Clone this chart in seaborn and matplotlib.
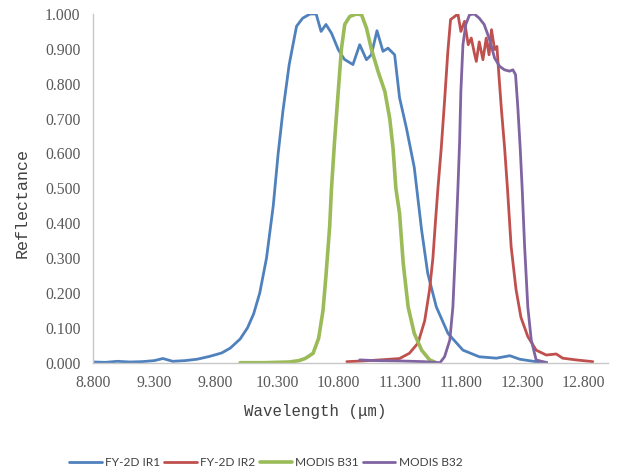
import matplotlib
matplotlib.use("Agg")
import matplotlib.pyplot as plt
import seaborn as sns
import pandas as pd

# ---- data ----
ir1_x = [8.80, 8.90, 9.00, 9.10, 9.20, 9.30, 9.37, 9.45, 9.55, 9.65, 9.75, 9.85, 9.92,
         10.00, 10.06, 10.11, 10.16, 10.215, 10.27, 10.31, 10.35, 10.40, 10.46, 10.51,
         10.57, 10.62, 10.66, 10.70, 10.745, 10.80, 10.85, 10.92, 10.975, 11.03, 11.07,
         11.116, 11.165, 11.206, 11.26, 11.30, 11.356, 11.42, 11.48, 11.53, 11.60,
         11.695, 11.817, 11.95, 12.09, 12.20, 12.28, 12.41, 12.50]
ir1_y = [0.002, 0.001, 0.004, 0.002, 0.003, 0.006, 0.012, 0.004, 0.006, 0.010, 0.018, 0.028, 0.042,
         0.068, 0.100, 0.140, 0.200, 0.300, 0.450, 0.600, 0.725, 0.855, 0.965, 0.988,
         1.000, 1.000, 0.950, 0.970, 0.945, 0.898, 0.870, 0.855, 0.912, 0.869, 0.883,
         0.952, 0.893, 0.902, 0.883, 0.760, 0.673, 0.560, 0.380, 0.256, 0.160,
         0.084, 0.036, 0.017, 0.013, 0.020, 0.010, 0.003, 0.001]

ir2_x = [10.87, 11.00, 11.14, 11.30, 11.38, 11.45, 11.505, 11.545, 11.572, 11.594, 11.613,
         11.64, 11.667, 11.694, 11.716, 11.75, 11.776, 11.80, 11.83, 11.86, 11.885, 11.91,
         11.926, 11.95, 11.98, 12.007, 12.03, 12.05, 12.075, 12.094, 12.11, 12.13, 12.157,
         12.18, 12.21, 12.25, 12.29, 12.346, 12.414, 12.496, 12.578, 12.63, 12.74, 12.876]
ir2_y = [0.003, 0.005, 0.008, 0.012, 0.027, 0.056, 0.120, 0.210, 0.300, 0.410, 0.500,
         0.615, 0.750, 0.893, 0.984, 0.993, 1.000, 0.950, 0.979, 0.912, 0.931, 0.888,
         0.864, 0.920, 0.869, 0.931, 0.883, 0.955, 0.898, 0.907, 0.826, 0.730, 0.615,
         0.500, 0.333, 0.210, 0.130, 0.075, 0.036, 0.022, 0.025, 0.013, 0.008, 0.003]

b31_x = [10.00, 10.20, 10.40, 10.48, 10.53, 10.595, 10.64, 10.676, 10.70, 10.73, 10.745,
         10.77, 10.80, 10.826, 10.853, 10.894, 10.948, 10.99, 11.03, 11.07, 11.125, 11.18,
         11.22, 11.247, 11.27, 11.30, 11.33, 11.37, 11.42, 11.48, 11.545, 11.60]
b31_y = [0.000, 0.000, 0.002, 0.006, 0.012, 0.027, 0.070, 0.150, 0.250, 0.390, 0.500,
         0.635, 0.778, 0.900, 0.970, 0.993, 1.000, 0.998, 0.960, 0.900, 0.835, 0.778,
         0.700, 0.615, 0.500, 0.428, 0.285, 0.160, 0.084, 0.036, 0.008, 0.000]

b32_x = [10.975, 11.10, 11.30, 11.50, 11.63, 11.667, 11.71, 11.735, 11.757, 11.776, 11.79,
         11.80, 11.817, 11.84, 11.871, 11.91, 11.95, 11.99, 12.03, 12.075, 12.116, 12.156,
         12.197, 12.224, 12.246, 12.265, 12.284, 12.30, 12.32, 12.346, 12.374, 12.414, 12.50]
b32_y = [0.008, 0.006, 0.005, 0.003, 0.000, 0.017, 0.065, 0.160, 0.333, 0.500, 0.635,
         0.778, 0.912, 0.970, 0.998, 1.000, 0.988, 0.970, 0.931, 0.874, 0.850, 0.840,
         0.836, 0.840, 0.826, 0.730, 0.615, 0.500, 0.333, 0.160, 0.065, 0.008, 0.000]

series_names = ["FY-2D IR1", "FY-2D IR2", "MODIS B31", "MODIS B32"]
series_x = [ir1_x, ir2_x, b31_x, b32_x]
series_y = [ir1_y, ir2_y, b31_y, b32_y]
colors = ["#4F81BD", "#C0504D", "#9BBB59", "#8064A2"]
widths = [2.0, 2.0, 2.6, 2.0]

x_ticks = [8.8, 9.3, 9.8, 10.3, 10.8, 11.3, 11.8, 12.3, 12.8]
y_ticks = [0.0, 0.1, 0.2, 0.3, 0.4, 0.5, 0.6, 0.7, 0.8, 0.9, 1.0]

# ---- plot ----
sns.set_theme(style="white")
plt.rcParams["font.family"] = ["Liberation Serif", "DejaVu Sans"]

fig = plt.figure(figsize=(6.19, 4.74), dpi=100)
ax = fig.add_axes([93 / 619, 1 - 362.7 / 474, (608 - 93) / 619, (362.7 - 14) / 474])

for name, xs, ys, c, lw in zip(series_names, series_x, series_y, colors, widths):
    df = pd.DataFrame({"Wavelength": xs, "Reflectance": ys})
    sns.lineplot(data=df, x="Wavelength", y="Reflectance", ax=ax, color=c,
                 linewidth=lw, label=name, estimator=None, sort=False)

ax.set_xlim(8.8, 13.0)
ax.set_ylim(0, 1.0)
ax.set_xticks(x_ticks)
ax.set_yticks(y_ticks)
ax.set_xticklabels([f"{v:.3f}" for v in x_ticks])
ax.set_yticklabels([f"{v:.3f}" for v in y_ticks])
ax.tick_params(axis="both", length=0, labelsize=11.3, colors="#595959")
ax.tick_params(axis="x", pad=9)
ax.tick_params(axis="y", pad=9)

for s in ["top", "right"]:
    ax.spines[s].set_visible(False)
for s in ["left", "bottom"]:
    ax.spines[s].set_color("#C8C8C8")
    ax.spines[s].set_linewidth(1.0)

ax.set_xlabel("Wavelength (μm)", fontsize=11.3, family=["Liberation Mono", "DejaVu Sans"],
              color="#404040")
ax.set_ylabel("Reflectance", fontsize=12, family=["Liberation Mono", "DejaVu Sans"],
              color="#404040")
ax.xaxis.set_label_coords(0.431, -0.118)
ax.yaxis.set_label_coords(-0.124, 0.458)

ax.get_legend().remove()
handles, labels = ax.get_legend_handles_labels()
fig.legend(handles, labels, ncol=4, loc="center", bbox_to_anchor=(266 / 619, 1 - 463 / 474),
           frameon=False, prop={"family": "Lato", "size": 8.6}, handlelength=2.7,
           handletextpad=0.3, columnspacing=0.35, labelcolor="#404040")

fig.savefig("out.png", dpi=100)
